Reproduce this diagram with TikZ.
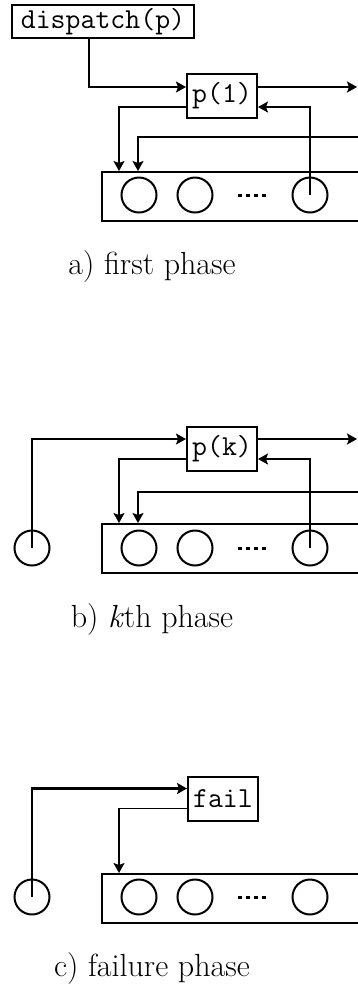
\documentclass[tikz,border=0pt]{standalone}
\usepackage{fontspec}
\usetikzlibrary{arrows.meta}

\begin{document}
\begin{tikzpicture}[>={Stealth[length=5pt,width=5.5pt,inset=1pt]},
          x=0.5pt, y=-0.5pt,
          every node/.style={align=center},
          proc/.style={draw, line width=1pt, inner sep=0pt,
                       font=\ttfamily\fontsize{14.5}{16}\selectfont,
                       minimum width=35pt, minimum height=22pt},
          pool/.style={draw, line width=1pt, inner sep=0pt, anchor=north west,
                       minimum width=140pt, minimum height=24.5pt},
          slot/.style={draw, circle, line width=1pt, inner sep=0pt,
                       minimum size=17.5pt},
          gapdots/.style={line width=1.5pt, dash pattern=on 2pt off 2pt},
          flow/.style={->, line width=1.2pt},
          link/.style={->, line width=0.9pt},
          caption/.style={font=\fontsize{16}{19}\selectfont, anchor=base}]
        \clip (0,0) rectangle (358,987);
        % a) first phase
        \node[proc, minimum width=91pt, minimum height=16.5pt] (a-disp) at (103,21.5) {dispatch(p)};
        \node[proc] (a-proc) at (222,96) {p(1)};
        \node[pool] (a-pool) at (101,171) {};
        \node[slot] (a-s1) at (139,195) {};
        \node[slot] (a-s2) at (195,195) {};
        \node[slot] (a-s3) at (310,195) {};
        \draw[gapdots] (238,195) -- (266,195);
        \coordinate (a-out)  at (357,87);
        \coordinate (a-feed) at (370,137);
        \draw[flow] ([xshift=-7pt]a-disp.south) |- ([yshift=4.5pt]a-proc.west);
        \draw[flow] ([yshift=4.5pt]a-proc.east) -- (a-out);
        \draw[link] ([yshift=-5.5pt]a-proc.west) -| ([xshift=9pt]a-pool.north west);
        \draw[link] (a-feed) -| ([xshift=18.5pt]a-pool.north west);
        \draw[link] (a-s3.center) |- ([yshift=-5.5pt]a-proc.east);
        \node[caption] (a-cap) at (152,274) {a) first phase};
        % b) kth phase
        \begin{scope}[yshift=-176pt]
          \node[slot] (b-s0) at (32,196) {};
          \node[proc] (b-proc) at (222,97) {p(k)};
          \node[pool] (b-pool) at (101,171) {};
          \node[slot] (b-s1) at (139,196) {};
          \node[slot] (b-s2) at (195,196) {};
          \node[slot] (b-s3) at (310,196) {};
          \draw[gapdots] (238,196) -- (266,196);
          \coordinate (b-out)  at (357,87);
          \coordinate (b-feed) at (370,140);
          \draw[flow] (b-s0.center) |- ([yshift=5pt]b-proc.west);
          \draw[flow] ([yshift=5pt]b-proc.east) -- (b-out);
          \draw[link] ([yshift=-5pt]b-proc.west) -| ([xshift=9pt]b-pool.north west);
          \draw[link] (b-feed) -| ([xshift=18.5pt]b-pool.north west);
          \draw[link] (b-s3.center) |- ([yshift=-5pt]b-proc.east);
          \node[caption] (b-cap) at (152,275) {b) \textit{k}th phase};
        \end{scope}
        % c) failure phase
        \begin{scope}[yshift=-351pt]
          \node[slot] (c-s0) at (32,195) {};
          \node[proc] (c-proc) at (223,96.5) {fail};
          \node[pool] (c-pool) at (101,171) {};
          \node[slot] (c-s1) at (139,195) {};
          \node[slot] (c-s2) at (195,195) {};
          \node[slot] (c-s3) at (310,195) {};
          \draw[gapdots] (238,195) -- (266,195);
          \draw[flow] (c-s0.center) |- ([yshift=5pt]c-proc.west);
          \draw[link] ([yshift=-5pt]c-proc.west) -| ([xshift=9pt]c-pool.north west);
          \node[caption] (c-cap) at (152,274) {c) failure phase};
        \end{scope}
      \end{tikzpicture}
\end{document}
